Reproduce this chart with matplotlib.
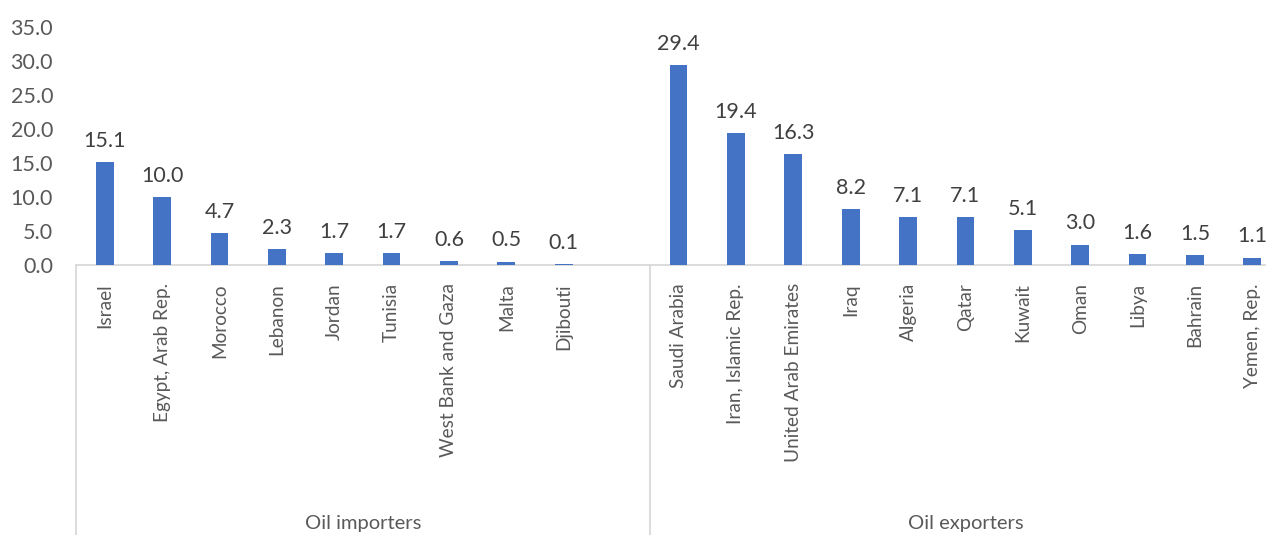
import matplotlib.pyplot as plt
import numpy as np

plt.rcParams['font.family'] = ['Lato', 'DejaVu Sans']

importers = ["Israel", "Egypt, Arab Rep.", "Morocco", "Lebanon", "Jordan",
             "Tunisia", "West Bank and Gaza", "Malta", "Djibouti"]
importer_vals = [15.1, 10.0, 4.7, 2.3, 1.7, 1.7, 0.6, 0.5, 0.1]
exporters = ["Saudi Arabia", "Iran, Islamic Rep.", "United Arab Emirates", "Iraq",
             "Algeria", "Qatar", "Kuwait", "Oman", "Libya", "Bahrain", "Yemen, Rep."]
exporter_vals = [29.4, 19.4, 16.3, 8.2, 7.1, 7.1, 5.1, 3.0, 1.6, 1.5, 1.1]
groups = ["Oil importers", "Oil exporters"]

bar_color = "#4472C4"
text_color = "#595959"
line_color = "#D9D9D9"

# importers take slots 0..8, slot 9 stays empty, exporters 10..20
x_imp = np.arange(len(importers))
x_exp = np.arange(len(exporters)) + len(importers) + 1
xs = np.concatenate([x_imp, x_exp])
vals = importer_vals + exporter_vals
names = importers + exporters
n_slots = len(importers) + 1 + len(exporters)

fig = plt.figure(figsize=(12.66, 5.35), dpi=100)
ax = fig.add_axes([76 / 1266, 270 / 535, 1205 / 1266, 238 / 535])

ax.bar(xs, vals, width=0.31, color=bar_color, zorder=3)
for x, v in zip(xs, vals):
    ax.annotate(f"{v:.1f}", (x, v), xytext=(0, 8), textcoords="offset points",
                ha="center", va="bottom", fontsize=15.5, color="#404040")

ax.set_xlim(-0.5, n_slots - 0.5)
ax.set_ylim(0, 35)
ax.set_yticks(np.arange(0, 36, 5))
ax.set_yticklabels([f"{t:.1f}" for t in np.arange(0, 36, 5)])
ax.tick_params(axis="y", length=0, labelsize=15.5, labelcolor=text_color, pad=16.5)

ax.set_xticks(xs)
ax.set_xticklabels(names, rotation=90, va="top")
ax.tick_params(axis="x", length=0, labelsize=13.7, labelcolor=text_color, pad=13)

for s in ["top", "right", "left"]:
    ax.spines[s].set_visible(False)
ax.spines["bottom"].set_color(line_color)
ax.spines["bottom"].set_linewidth(1.3)

# group separators of the two-level category axis
tr = ax.get_xaxis_transform()
bottom = -270 / 238
for xv in [-0.5, len(importers) + 0.5]:
    ax.plot([xv, xv], [0, bottom], transform=tr, color=line_color, lw=1.3, clip_on=False)

group_centres = [(-0.5 + len(importers) + 0.5) / 2, (len(importers) + 0.5 + n_slots - 0.5) / 2]
for g, c in zip(groups, group_centres):
    ax.text(c, -258 / 238, g, transform=tr, ha="center", va="center",
            fontsize=14.5, color=text_color)

fig.savefig("out.png", dpi=100)
